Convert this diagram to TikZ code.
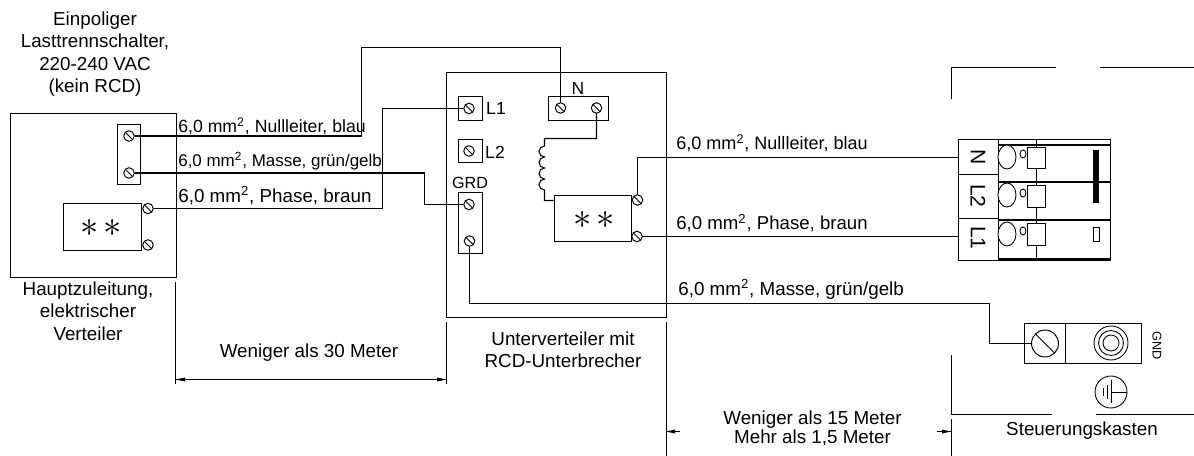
\documentclass[tikz,border=0pt]{standalone}
\usepackage{fontspec}
\setmainfont{Liberation Sans}
\tikzset{
  box/.style 2 args={draw,rectangle,anchor=north west,line width=0.55pt,minimum width=#1*0.02cm,minimum height=#2*0.02cm},
  screw/.style={draw,circle,line width=0.55pt,minimum size=10.5*0.02cm,path picture={\draw (path picture bounding box.north west) -- (path picture bounding box.south east);}},
  wire/.style={line width=0.6pt},
  feed/.style={line width=0.95pt},
  plain/.style={line width=0.5pt},
  stars/.style={font=\fontsize{20.74}{24}\selectfont},
  cad/.style={font=\fontsize{#1}{12}\selectfont},
  wirelab/.style={anchor=base west,font=\fontsize{#1}{12}\selectfont}
}
\begin{document}
\begin{tikzpicture}[x=0.02cm,y=0.02cm]
\tikzstyle{every node}+=[inner sep=0pt,font=\fontsize{10.7}{12.7}\selectfont]
\useasboundingbox (0,0) rectangle (1194,-456);
\node [box={166}{164}] (mainbox) at (9.5,-113) {};
\node [box={23}{60.5}] (mainstrip) at (117,-124) {};
\node [screw] (ma) at (129,-136) {};
\node [screw] (mb) at (129,-173) {};
\node [box={77.5}{47}] (mainrelay) at (63,-203) {};
\node [stars] (mainstars) at (101.5,-228) {$\ast\kern2.6pt\ast$};
\node [screw] (mc) at (148,-208.5) {};
\node [screw] (md) at (148,-245) {};
\node [box={220}{245}] (subbox) at (446,-72) {};
\node [box={23.5}{23.5}] (boxl1) at (458,-96.5) {};
\node [screw] (sl1) at (469,-108.5) {};
\node [cad=10] (txtl1) at (496,-108) {L1};
\node [box={23.5}{23.5}] (boxl2) at (458,-139) {};
\node [screw] (sl2) at (469,-151) {};
\node [cad=10] (txtl2) at (495,-152) {L2};
\node [box={23.5}{61}] (boxgrd) at (458,-192) {};
\node [screw] (sga) at (469,-204.5) {};
\node [screw] (sgb) at (469.5,-241) {};
\node [cad=9.2] (txtgrd) at (470,-183) {GRD};
\node [box={60}{23.5}] (boxn) at (548,-96.5) {};
\node [screw] (sna) at (560.5,-108) {};
\node [screw] (snb) at (596.5,-108) {};
\node [cad=10] (txtn) at (578,-88) {N};
\node [box={77.5}{46.5}] (subrelay) at (553.5,-194.5) {};
\node [stars] (substars) at (594,-220) {$\ast\kern2.6pt\ast$};
\node [screw] (sra) at (637.5,-200) {};
\node [screw] (srb) at (637,-236.5) {};
\node [box={40}{35}] (celln) at (958,-139) {};
\node [box={40}{44}] (cellb) at (958,-174) {};
\node [box={40}{42}] (cella) at (958,-218) {};
\node [cad=12,rotate=-90] (txtcn) at (978,-157) {N};
\node [cad=12,rotate=-90] (txtcb) at (978,-196) {L2};
\node [cad=12,rotate=-90] (txtca) at (978,-238) {L1};
\node [box={117}{40}] (gndbox) at (1024,-323) {};
\draw [plain] (1065,-323) -- (1065,-363);
\node [screw,minimum size=27*0.02cm] (sgnd) at (1045,-343.5) {};
\node [cad=7.2,rotate=-90] (txtgnd) at (1157,-346) {GND};
\draw [wire] (ma) -- (361.5,-136) -- (361.5,-47.5) -- (560.5,-47.5) -- (sna);
\draw [wire] (mb) -- (424.5,-173) -- (424.5,-204.5) -- (sga);
\draw [wire] (mc) -- (382.5,-208.5) -- (382.5,-108.5) -- (sl1);
\draw [feed] (150,-136) -- (361,-136);
\draw [feed] (150,-173) -- (424,-173);
\draw [feed] (170,-208.5) -- (382,-208.5);
\draw [wire] (snb) -- (596.5,-138.5) -- (544.5,-138.5) -- (544.5,-146) arc (90:270:5.5) arc (90:270:5.5) arc (90:270:5.5) arc (90:270:5.5) -- (544.5,-200.5) -- (subrelay.west |- 0,-200.5);
\draw [wire] (sra) -- (637.5,-157.5) -- (celln.west |- 0,-157.5);
\draw [wire] (srb) -- (cella.west |- srb);
\draw [wire] (sgb) -- (469.5,-303.5) -- (989.5,-303.5) -- (989.5,-343.5) -- (sgnd);
\draw (178,-132.7) node [wirelab=10.05] {6,0 mm\textsuperscript{2}, Nullleiter, blau};
\draw (178,-166.7) node [wirelab=9.65] {6,0 mm\textsuperscript{2}, Masse, grün/gelb};
\draw (178,-202) node [wirelab=10.7] {6,0 mm\textsuperscript{2}, Phase, braun};
\draw (676,-150) node [wirelab=10.27] {6,0 mm\textsuperscript{2}, Nullleiter, blau};
\draw (676,-230) node [wirelab=10.6] {6,0 mm\textsuperscript{2}, Phase, braun};
\draw (678,-295) node [wirelab=10.7] {6,0 mm\textsuperscript{2}, Masse, grün/gelb};
\draw (95,-54) node [align=center] {Einpoliger\\Lasttrennschalter,\\220-240 VAC\\(kein RCD)};
\draw (88,-311) node [align=center] {Hauptzuleitung,\\elektrischer\\Verteiler};
\draw (563,-350) node [align=center] {Unterverteiler mit\\RCD-Unterbrecher};
\draw (309,-353) node {Weniger als 30 Meter};
\draw (812.5,-428) node [align=center] {Weniger als 15 Meter\\[-2pt]Mehr als 1,5 Meter};
\draw (1082,-431) node {Steuerungskasten};
\draw [plain] (998,-139) -- (1110,-139) -- (1110,-260) -- (998,-260);
\draw [plain] (998,-139) -- (998,-260);
\draw [plain] (1036,-139) -- (1036,-260);
\draw [wire] (998,-145) -- (1110,-145);
\draw [line width=1pt] (998,-182) -- (1110,-182);
\draw [wire] (998,-220) -- (1110,-220);
\draw [wire] (998,-259) -- (1110,-259);
\draw [plain,fill=white] (1007,-157) ellipse (9 and 12);
\draw [plain,fill=white] (1007,-195) ellipse (9 and 12);
\draw [plain,fill=white] (1007,-234) ellipse (9 and 12);
\draw [plain] (1023,-154) ellipse (3 and 4);
\draw [plain] (1023,-193) ellipse (3 and 4);
\draw [plain] (1023,-231) ellipse (3 and 4);
\draw [plain,fill=white] (1027,-147) rectangle (1045,-168);
\draw [plain,fill=white] (1027,-185) rectangle (1045,-207);
\draw [plain,fill=white] (1027,-223) rectangle (1045,-245);
\fill [black] (1093,-150) rectangle (1099,-203);
\draw [plain] (1093,-227) rectangle (1099,-241);
\draw [plain] (1111,-343) circle (17);
\draw [plain] (1111,-343) circle (12.5);
\draw [plain] (1111,-343) circle (8);
\draw [plain] (1111,-392) circle (16);
\draw [plain] (1111,-392) -- (1127,-392);
\draw [plain] (1111,-380) -- (1111,-403);
\draw [plain] (1107,-385) -- (1107,-399);
\draw [plain] (1103,-388) -- (1103,-396);
\draw [plain] (951,-99) -- (951,-67.5) -- (1056,-67.5);
\draw [plain] (1100,-67.5) -- (1194,-67.5);
\draw [plain] (951,-355) -- (951,-414.5) -- (1052,-414.5);
\draw [plain] (1096,-414.5) -- (1194,-414.5);
\draw [plain] (175.5,-282) -- (175.5,-384);
\draw [plain] (446.5,-322) -- (446.5,-384);
\draw [plain] (666,-322) -- (666,-456);
\draw [plain] (951,-419) -- (951,-456);
\coordinate (dima) at (175.5,-379.5);
\coordinate (dimb) at (446.5,-379.5);
\coordinate (dimc) at (666,-431.5);
\coordinate (dimd) at (680,-431.5);
\coordinate (dime) at (937,-431.5);
\coordinate (dimf) at (951,-431.5);
\draw [wire] (dima) -- (dimb);
\fill [black] (175.5,-379.5) -- (185,-377.5) -- (185,-381.5);
\fill [black] (446.5,-379.5) -- (437,-377.5) -- (437,-381.5);
\draw [plain] (dimc) -- (dimd);
\fill [black] (666,-431.5) -- (675,-429.5) -- (675,-433.5);
\draw [plain] (dime) -- (dimf);
\fill [black] (951,-431.5) -- (942,-429.5) -- (942,-433.5);
\end{tikzpicture}
\end{document}
